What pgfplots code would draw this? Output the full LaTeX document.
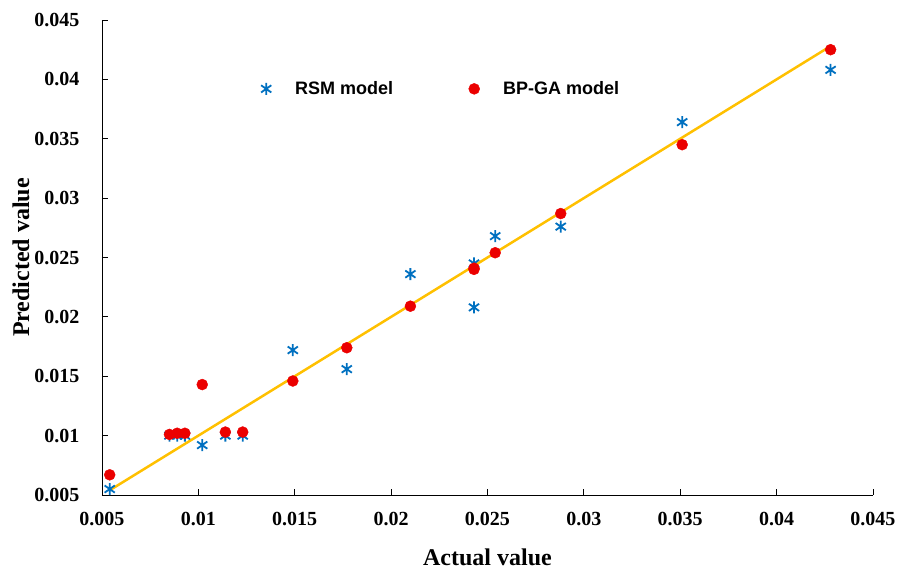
\documentclass[border=0pt]{standalone}
\usepackage{fontspec}
\setmainfont{Liberation Serif}
\setsansfont{Liberation Sans}
\usepackage{pgfplots}
\pgfplotsset{compat=1.18}
\definecolor{rsmblue}{RGB}{0,112,192}
\definecolor{bpred}{RGB}{235,0,0}
\definecolor{gold}{RGB}{255,192,0}
\pgfdeclareplotmark{xast}{%
 \pgfpathmoveto{\pgfqpoint{0pt}{\pgfplotmarksize}}\pgfpathlineto{\pgfqpoint{0pt}{-\pgfplotmarksize}}%
 \pgfpathmoveto{\pgfqpoint{-.85\pgfplotmarksize}{.6\pgfplotmarksize}}\pgfpathlineto{\pgfqpoint{.85\pgfplotmarksize}{-.6\pgfplotmarksize}}%
 \pgfpathmoveto{\pgfqpoint{-.85\pgfplotmarksize}{-.6\pgfplotmarksize}}\pgfpathlineto{\pgfqpoint{.85\pgfplotmarksize}{.6\pgfplotmarksize}}%
 \pgfusepathqstroke}
\begin{document}
\begin{tikzpicture}
\begin{axis}[
  scale only axis, width=771pt, height=475pt,
  xmin=0.005, xmax=0.045, ymin=0.005, ymax=0.045,
  axis lines=left, axis line style={-, line width=0.8pt},
  xtick={0.005,0.01,...,0.045}, ytick={0.005,0.01,...,0.045},
  tick align=inside, major tick length=6pt, tick style={black, line width=0.8pt},
  scaled ticks=false,
  /pgf/number format/fixed, /pgf/number format/precision=3,
  /pgf/number format/assume math mode=true,
  ticklabel style={font=\fontsize{20}{24}\selectfont\bfseries},
  yticklabel style={xshift=-19pt},
  xticklabel style={yshift=-14pt},
  xlabel={Actual value}, ylabel={Predicted value},
  label style={font=\fontsize{24}{28}\selectfont\bfseries},
  xlabel style={at={(axis description cs:0.5,-0.1305)}, anchor=center},
  ylabel style={at={(axis description cs:-0.105,0.5)}, anchor=center},
  legend columns=2,
  legend style={at={(axis cs:0.01299,0.0392)}, anchor=west, draw=none, fill=none,
    font=\fontsize{18}{22}\selectfont\sffamily\bfseries,
    /tikz/every even column/.append style={column sep=72pt}},
  legend image code/.code={\draw[#1] plot coordinates {(0pt,0pt)}; \path[draw=none,fill=none] (-7pt,-7pt) rectangle (27pt,7pt);},
]
\addplot[gold, line width=2.5pt, forget plot] coordinates {(0.0054,0.0054) (0.0427,0.0427)};
\addplot[only marks, mark=xast, mark size=6pt, draw=rsmblue, line width=1.8pt] coordinates {
(0.0054,0.0055) (0.0085,0.0100) (0.0089,0.0100) (0.0093,0.0100) (0.0102,0.0092)
(0.0114,0.0100) (0.0123,0.0100) (0.0149,0.0172) (0.0177,0.0156) (0.0210,0.0236)
(0.0243,0.0245) (0.0243,0.0208) (0.0254,0.0268) (0.0288,0.0276) (0.0351,0.0364)
(0.0428,0.0408)};
\addlegendentry{RSM model}
\addplot[only marks, mark=*, mark size=5.5pt, draw=bpred, fill=bpred] coordinates {
(0.0054,0.0067) (0.0085,0.0101) (0.0089,0.0102) (0.0093,0.0102) (0.0102,0.0143)
(0.0114,0.0103) (0.0123,0.0103) (0.0149,0.0146) (0.0177,0.0174) (0.0210,0.0209)
(0.0243,0.0240) (0.0243,0.0241) (0.0254,0.0254) (0.0288,0.0287) (0.0351,0.0345)
(0.0428,0.0425)};
\addlegendentry{BP-GA model}
\coordinate (o) at (rel axis cs:0,0);
\end{axis}
\pgfresetboundingbox
\path (o) ++(-102pt,-74pt) rectangle ++(898pt,569pt);
\end{tikzpicture}
\end{document}
